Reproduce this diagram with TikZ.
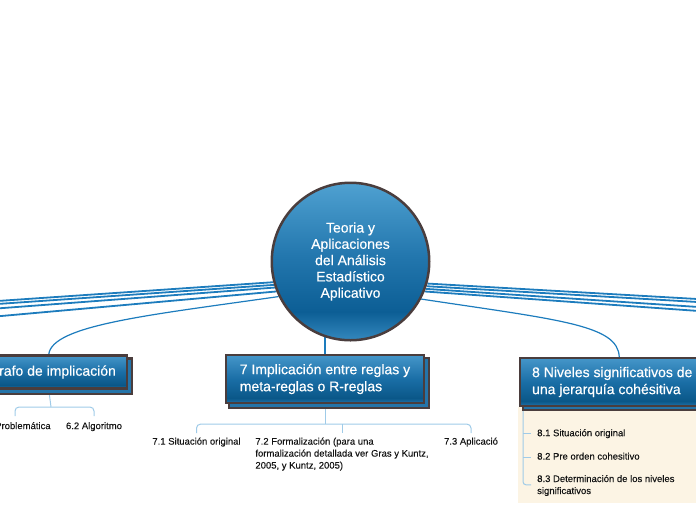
\documentclass[tikz,border=0pt]{standalone}
\usepackage{fontspec}
\setmainfont{Liberation Sans}
\newfontfamily\headfont[FakeBold=0.35]{Liberation Sans}
\newfontfamily\leaffont[FakeBold=0.2]{Liberation Sans}
\usetikzlibrary{backgrounds,calc}
\definecolor{lineblue}{HTML}{1D7CBD}
\definecolor{twig}{HTML}{9FCBE8}
\definecolor{rim}{HTML}{4A3D3D}
\definecolor{panel}{HTML}{FCF4E4}
\definecolor{ink}{HTML}{141414}
\definecolor{btop}{HTML}{4596C9}
\definecolor{bmid}{HTML}{1A6EA6}
\definecolor{bdark}{HTML}{0A5788}
\definecolor{bbot}{HTML}{2073AA}
\definecolor{shadowfill}{HTML}{2474A9}
\definecolor{ctop}{HTML}{4FA1D1}
\definecolor{cmid}{HTML}{2377AE}
\definecolor{cdark}{HTML}{0C5E95}
\definecolor{cbot}{HTML}{3488BE}
\pgfdeclareverticalshading{boxshade}{100bp}{color(0bp)=(bbot); color(25bp)=(bbot); color(30bp)=(bdark); color(50bp)=(bmid); color(75bp)=(btop); color(100bp)=(btop)}
\pgfdeclareverticalshading{circshade}{100bp}{color(0bp)=(cbot); color(25bp)=(cbot); color(34bp)=(cdark); color(52bp)=(cmid); color(75bp)=(ctop); color(100bp)=(ctop)}
\tikzset{
  hub/.style={circle, draw=rim, line width=2.5pt, shade, shading=circshade, minimum size=157.5pt, inner sep=0pt, text=white, align=center, font=\headfont\fontsize{14}{16.3}\selectfont},
  topic/.style={draw=rim, line width=2.2pt, shade, shading=boxshade, text=white, align=left, font=\headfont\fontsize{14}{17}\selectfont, inner xsep=12pt, inner ysep=0pt, minimum height=48pt},
  backing/.style={draw=rim, line width=2.2pt, fill=shadowfill},
  limb/.style={draw=lineblue, line width=1.8pt},
  thinlimb/.style={draw=lineblue, line width=1.2pt},
  twigline/.style={draw=twig, line width=1pt},
  leaf/.style={text=ink, font=\leaffont\fontsize{9.5}{12}\selectfont, inner sep=0pt, align=left},
}
\begin{document}
\begin{tikzpicture}[x=1pt,y=-1pt]
\useasboundingbox (0,0) rectangle (696,520);
% hub and topics
\node[hub] (c) at (350.5,261.5) {Teoria y\\Aplicaciones\\del Análisis\\Estadístico\\Aplicativo};
\node[topic, minimum width=198pt] (b7) at (325,379) {7 Implicación entre reglas y\\meta-reglas o R-reglas};
\node[topic, minimum height=33pt, inner xsep=11pt, anchor=east] (b6) at (128,372) {6 Grafo de implicación};
\node[topic, anchor=west] (b8) at (519,382) {8 Niveles significativos de\\una jerarquía cohésitiva};
% leaves
\node[leaf, anchor=north] (t61) at (15,420.5) {\strut 6.1 Problemática};
\node[leaf, anchor=north] (t62) at (94,420.5) {\strut 6.2 Algoritmo};
\node[leaf, anchor=north] (t71) at (196.5,436) {\strut 7.1 Situación original};
\node[leaf, anchor=north] (t72) at (342,436) {\strut 7.2 Formalización (para una\\formalización detallada ver Gras y Kuntz,\\2005, y Kuntz, 2005)};
\node[leaf, anchor=north] (t73) at (471,436) {\strut 7.3 Aplicació};
\node[leaf, anchor=north west] (i81) at (537,427.6) {\strut 8.1 Situación original};
\node[leaf, anchor=north west] (i82) at (537,451) {\strut 8.2 Pre orden cohesitivo};
\node[leaf, anchor=north west] (i83) at (537,473.4) {\strut 8.3 Determinación de los niveles\\significativos};
% free ends of off-picture branches
\coordinate (L1) at (-10,301.5);
\coordinate (L2) at (-10,304.5);
\coordinate (L3) at (-10,309);
\coordinate (L4) at (-10,317);
\coordinate (R1) at (706,299.5);
\coordinate (R2) at (706,302.5);
\coordinate (R3) at (706,307.5);
\coordinate (R4) at (706,311.5);
\coordinate (j6) at (51,407);
\path (b7.south) ++(0,20) coordinate (j7);
\path (b8.south west) ++(4,0) coordinate (k8);
\begin{scope}[on background layer]
  \fill[panel] (518,407) rectangle (700,503);
  \draw[limb] (c.195) -- (L1);
  \draw[limb] (c.197) -- (L2);
  \draw[limb] (c.199) -- (L3);
  \draw[limb] (c.202) -- (L4);
  \draw[limb] (c.344) -- (R1);
  \draw[limb] (c.342.5) -- (R2);
  \draw[limb] (c.340.5) -- (R3);
  \draw[limb] (c.338) -- (R4);
  \draw[thinlimb] (c.206) .. controls (150,315) and (52,325) .. ([xshift=2.5pt]b6.north);
  \draw[thinlimb] (c.332) .. controls (560,320) and (618,325) .. ([xshift=7pt]b8.north);
  \draw[thinlimb] (b7.north) -- (b7.north |- c.center);
  % twigs
  \draw[twigline] ([xshift=2.5pt]b6.south) -- (j6);
  \draw[twigline, rounded corners=4pt, shorten <=4.5pt, shorten >=4.5pt] (t61.north) -- (t61.north |- j6) -- (t62.north |- j6) -- (t62.north);
  \draw[twigline] (b7.south) -- (j7);
  \draw[twigline, rounded corners=4pt, shorten <=3pt, shorten >=3pt] (t71.north) -- (t71.north |- j7) -- (t73.north |- j7) -- (t73.north);
  \draw[twigline, shorten >=3pt] (t72.north |- j7) -- (t72.north);
  \draw[twigline, rounded corners=3pt, shorten >=6pt] (k8) |- (i83.west);
  \draw[twigline, shorten >=6pt] (k8 |- i81.west) -- (i81.west);
  \draw[twigline, shorten >=6pt] (k8 |- i82.west) -- (i82.west);
  % shadows of topic boxes
  \draw[backing] ($(b6.south west)+(4,4)$) rectangle ($(b6.north east)+(4,4)$);
  \draw[backing] ($(b7.south west)+(4,4)$) rectangle ($(b7.north east)+(4,4)$);
  \draw[backing] ($(b8.south west)+(4,3)$) rectangle ($(b8.north east)+(4,3)$);
\end{scope}
\end{tikzpicture}
\end{document}
